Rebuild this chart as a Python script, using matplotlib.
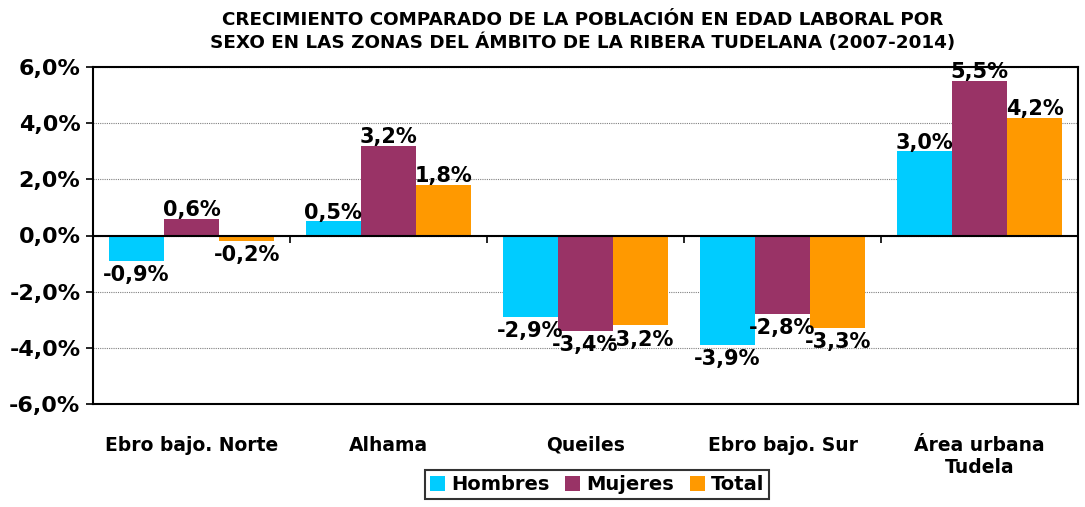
import matplotlib
matplotlib.use("Agg")
import matplotlib.pyplot as plt
import numpy as np

categories = ["Ebro bajo. Norte", "Alhama", "Queiles", "Ebro bajo. Sur", "Área urbana\nTudela"]
series_names = ["Hombres", "Mujeres", "Total"]
hombres = [-0.9, 0.5, -2.9, -3.9, 3.0]
mujeres = [0.6, 3.2, -3.4, -2.8, 5.5]
total = [-0.2, 1.8, -3.2, -3.3, 4.2]
colors = ["#00CCFF", "#993366", "#FF9900"]
yticks = [-6, -4, -2, 0, 2, 4, 6]
title = "CRECIMIENTO COMPARADO DE LA POBLACIÓN EN EDAD LABORAL POR\nSEXO EN LAS ZONAS DEL ÁMBITO DE LA RIBERA TUDELANA (2007-2014)"

plt.rcParams['font.family'] = ['DejaVu Sans']
fig = plt.figure(figsize=(10.85, 5.07), dpi=100)
ax = fig.add_axes([93/1085, 1 - 404/507, (1078-93)/1085, (404-67)/507])

x = np.arange(len(categories))
w = 0.28
data = [hombres, mujeres, total]
for i, (vals, c, name) in enumerate(zip(data, colors, series_names)):
    pos = x + (i - 1) * w
    ax.bar(pos, vals, width=w, color=c, label=name, zorder=3)
    for p, v in zip(pos, vals):
        txt = f"{v:.1f}%".replace(".", ",")
        if v >= 0:
            ax.annotate(txt, (p, v), xytext=(0, -1), textcoords="offset points",
                        ha="center", va="bottom", fontsize=15, fontweight="bold", zorder=5)
        else:
            ax.annotate(txt, (p, v), xytext=(0, -3), textcoords="offset points",
                        ha="center", va="top", fontsize=15, fontweight="bold", zorder=5)

ax.set_xlim(-0.5, len(categories) - 0.5)
ax.set_ylim(-6, 6)
ax.set_yticks(yticks)
ax.set_yticklabels([f"{t:.1f}%".replace(".", ",") for t in yticks], fontsize=16, fontweight="bold")
ax.yaxis.grid(True, linestyle=(0, (1, 1)), color="#808080", linewidth=0.8, zorder=0)
ax.axhline(0, color="black", linewidth=1.5, zorder=4)
bounds = np.arange(len(categories) + 1) - 0.5
ax.vlines(bounds[1:-1], -0.25, 0, color="black", linewidth=1.2, zorder=4)
ax.set_xticks(x)
ax.set_xticklabels(categories, fontsize=13.5, fontweight="bold")
ax.tick_params(axis="x", length=0, pad=23)
ax.tick_params(axis="y", length=5, width=1.2, direction="out", pad=4)
for s in ax.spines.values():
    s.set_linewidth(1.5)

fig.text(0.537, 1 - 20/507, title.split("\n")[0], ha="center", va="center", fontsize=13.2, fontweight="bold")
fig.text(0.537, 1 - 43/507, title.split("\n")[1], ha="center", va="center", fontsize=13.2, fontweight="bold")

leg = ax.legend(loc="upper center", bbox_to_anchor=((597 - 93) / (1078 - 93), -(470 - 404) / (404 - 67)),
                ncol=3, frameon=True, fancybox=False, edgecolor="black",
                prop={"weight": "bold", "size": 14},
                handlelength=0.8, handleheight=0.8, handletextpad=0.3, columnspacing=0.8,
                borderpad=0.25, borderaxespad=0)
leg.get_frame().set_linewidth(1.5)

fig.savefig("out.png", dpi=100)
